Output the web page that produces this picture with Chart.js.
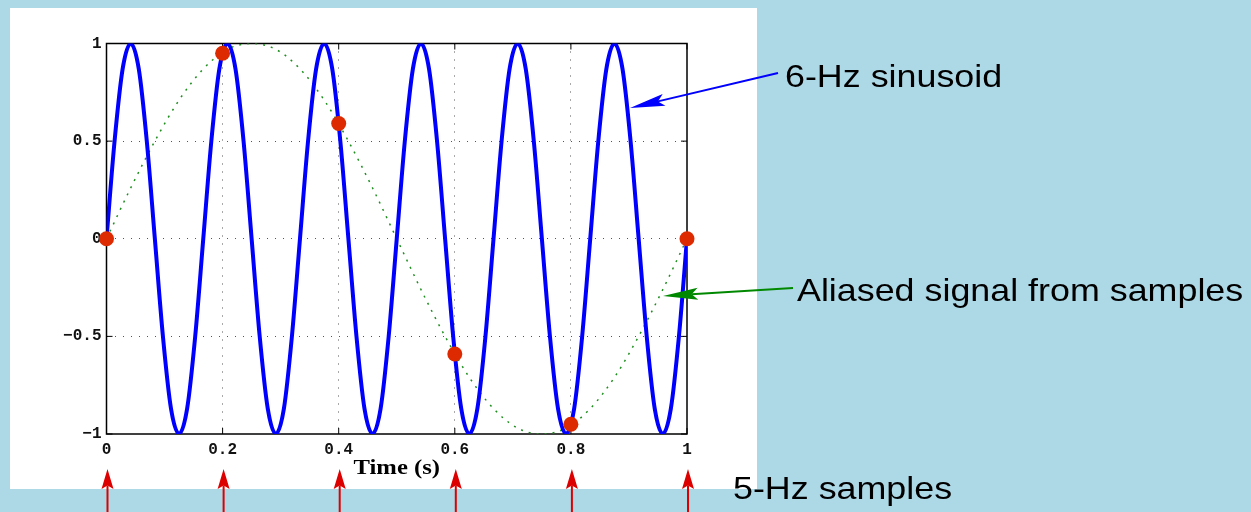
<!DOCTYPE html>
<html>
<head>
<meta charset="utf-8">
<script src="https://cdn.jsdelivr.net/npm/chart.js@4.4.1/dist/chart.umd.min.js"></script>
<style>
html, body { margin: 0; padding: 0; background: #add8e6; }
#wrap { width: 1251px; height: 512px; }
</style>
</head>
<body>
<div id="wrap"><canvas id="grafico"></canvas></div>
<script>
// 6-Hz sinusoid, read every 1/72 s
var tempiSeno = [0, 0.0139, 0.0278, 0.0417, 0.0556, 0.0694, 0.0833, 0.0972, 0.1111, 0.125, 0.1389, 0.1528,
  0.1667, 0.1806, 0.1944, 0.2083, 0.2222, 0.2361, 0.25, 0.2639, 0.2778, 0.2917, 0.3056, 0.3194,
  0.3333, 0.3472, 0.3611, 0.375, 0.3889, 0.4028, 0.4167, 0.4306, 0.4444, 0.4583, 0.4722, 0.4861,
  0.5, 0.5139, 0.5278, 0.5417, 0.5556, 0.5694, 0.5833, 0.5972, 0.6111, 0.625, 0.6389, 0.6528,
  0.6667, 0.6806, 0.6944, 0.7083, 0.7222, 0.7361, 0.75, 0.7639, 0.7778, 0.7917, 0.8056, 0.8194,
  0.8333, 0.8472, 0.8611, 0.875, 0.8889, 0.9028, 0.9167, 0.9306, 0.9444, 0.9583, 0.9722, 0.9861, 1];
var valoriSeno = [0, 0.5, 0.87, 1, 0.87, 0.5, 0, -0.5, -0.87, -1, -0.87, -0.5,
  0, 0.5, 0.87, 1, 0.87, 0.5, 0, -0.5, -0.87, -1, -0.87, -0.5,
  0, 0.5, 0.87, 1, 0.87, 0.5, 0, -0.5, -0.87, -1, -0.87, -0.5,
  0, 0.5, 0.87, 1, 0.87, 0.5, 0, -0.5, -0.87, -1, -0.87, -0.5,
  0, 0.5, 0.87, 1, 0.87, 0.5, 0, -0.5, -0.87, -1, -0.87, -0.5,
  0, 0.5, 0.87, 1, 0.87, 0.5, 0, -0.5, -0.87, -1, -0.87, -0.5, 0];

// aliased signal (dotted green)
var tempiAlias = [0, 0.0417, 0.0833, 0.125, 0.1667, 0.2083, 0.25, 0.2917, 0.3333, 0.375, 0.4167, 0.4583,
  0.5, 0.5417, 0.5833, 0.625, 0.6667, 0.7083, 0.75, 0.7917, 0.8333, 0.875, 0.9167, 0.9583, 1];
var valoriAlias = [0, 0.26, 0.5, 0.71, 0.87, 0.97, 1, 0.97, 0.87, 0.71, 0.5, 0.26,
  0, -0.26, -0.5, -0.71, -0.87, -0.97, -1, -0.97, -0.87, -0.71, -0.5, -0.26, 0];

// 5-Hz samples (red dots)
var tempiCampioni = [0, 0.2, 0.4, 0.6, 0.8, 1];
var valoriCampioni = [0, 0.95, 0.59, -0.59, -0.95, 0];

var etichetteX = ['0', '0.2', '0.4', '0.6', '0.8', '1'];
var etichetteY = ['\u22121', '\u22120.5', '0', '0.5', '1'];

function coppie(xs, ys) {
  var out = [];
  for (var i = 0; i < xs.length; i++) {
    out.push({x: xs[i], y: ys[i]});
  }
  return out;
}

// arrow with a slightly notched head, tip at (x1, y1)
function freccia(ctx, x0, y0, x1, y1, colore, lung, larg, spessore) {
  var dx = x1 - x0, dy = y1 - y0;
  var d = Math.sqrt(dx * dx + dy * dy);
  var ux = dx / d, uy = dy / d;
  var nx = -uy, ny = ux;
  var bx = x1 - ux * lung, by = y1 - uy * lung;
  var kx = x1 - ux * lung * 0.82, ky = y1 - uy * lung * 0.82;
  ctx.save();
  ctx.strokeStyle = colore;
  ctx.fillStyle = colore;
  ctx.lineWidth = spessore;
  ctx.beginPath();
  ctx.moveTo(x0, y0);
  ctx.lineTo(kx, ky);
  ctx.stroke();
  ctx.beginPath();
  ctx.moveTo(x1, y1);
  ctx.lineTo(bx + nx * larg, by + ny * larg);
  ctx.lineTo(kx, ky);
  ctx.lineTo(bx - nx * larg, by - ny * larg);
  ctx.closePath();
  ctx.fill();
  ctx.restore();
}

function testo(ctx, str, x, y, font, scala) {
  ctx.save();
  ctx.font = font;
  ctx.fillStyle = '#000';
  ctx.textBaseline = 'alphabetic';
  ctx.translate(x, y);
  ctx.scale(scala, 1);
  ctx.fillText(str, 0, 0);
  ctx.restore();
}

var sfondo = {
  id: 'sfondo',
  beforeDraw: function(chart) {
    var ctx = chart.ctx;
    ctx.save();
    ctx.fillStyle = '#add8e6';
    ctx.fillRect(0, 0, chart.width, chart.height);
    ctx.fillStyle = '#ffffff';
    ctx.fillRect(10, 8, 747, 481);
    ctx.restore();
  },
  beforeDatasetsDraw: function(chart) {
    var ctx = chart.ctx;
    var a = chart.chartArea;
    var sx = chart.scales.x, sy = chart.scales.y;
    ctx.save();
    ctx.strokeStyle = '#000';
    ctx.lineWidth = 1.5;
    ctx.strokeRect(a.left, a.top, a.right - a.left, a.bottom - a.top);
    ctx.lineWidth = 1;
    ctx.beginPath();
    for (var i = 0; i < sx.ticks.length; i++) {
      var px = sx.getPixelForValue(sx.ticks[i].value);
      ctx.moveTo(px, a.bottom); ctx.lineTo(px, a.bottom - 6);
      ctx.moveTo(px, a.top); ctx.lineTo(px, a.top + 6);
    }
    for (var j = 0; j < sy.ticks.length; j++) {
      var py = sy.getPixelForValue(sy.ticks[j].value);
      ctx.moveTo(a.left, py); ctx.lineTo(a.left + 6, py);
      ctx.moveTo(a.right, py); ctx.lineTo(a.right - 6, py);
    }
    ctx.stroke();
    ctx.restore();
  },
  afterDraw: function(chart) {
    var ctx = chart.ctx;
    var a = chart.chartArea;
    var sx = chart.scales.x;

    // axis title
    ctx.save();
    ctx.font = 'bold 22px "Liberation Serif", "Times New Roman", serif';
    ctx.fillStyle = '#000';
    ctx.textAlign = 'center';
    ctx.translate((a.left + a.right) / 2, 474);
    ctx.scale(1.12, 1);
    ctx.fillText('Time (s)', 0, 0);
    ctx.restore();

    // sample arrows under the axis
    for (var i = 0; i < tempiCampioni.length; i++) {
      var px = sx.getPixelForValue(tempiCampioni[i]) + 1;
      freccia(ctx, px, 512, px, 469, '#dd0000', 20, 6, 2);
    }

    freccia(ctx, 778, 73, 630, 108, '#0000ff', 35, 6, 2);
    freccia(ctx, 793, 288, 663, 296, '#008800', 35, 6, 2);

    var f = '32px "Liberation Sans", Arial, sans-serif';
    testo(ctx, '6-Hz sinusoid', 785, 87, f, 1.12);
    testo(ctx, 'Aliased signal from samples', 797, 301, f, 1.12);
    testo(ctx, '5-Hz samples', 733, 499, f, 1.12);
  }
};

function griglia(ctx) {
  var n = ctx.chart.scales[ctx.scale.id].ticks.length;
  if (ctx.index === 0 || ctx.index === n - 1) {
    return 'rgba(0,0,0,0)';
  }
  return '#555';
}

var fontTick = { family: '"Liberation Mono", "Courier New", monospace', size: 16, weight: 'bold' };

var chart = new Chart(document.getElementById('grafico'), {
  type: 'scatter',
  data: {
    datasets: [{
      label: 'samples',
      data: coppie(tempiCampioni, valoriCampioni),
      pointRadius: 7.5,
      pointBackgroundColor: '#dd2a00',
      pointBorderWidth: 0,
      showLine: false,
      clip: false,
      order: 0
    }, {
      label: '6-Hz sinusoid',
      data: coppie(tempiSeno, valoriSeno),
      showLine: true,
      borderColor: '#0000ff',
      borderWidth: 4,
      pointRadius: 0,
      cubicInterpolationMode: 'monotone',
      order: 1
    }, {
      label: 'aliased',
      data: coppie(tempiAlias, valoriAlias),
      showLine: true,
      borderColor: '#1f8f1f',
      borderWidth: 1.5,
      borderDash: [2, 6],
      pointRadius: 0,
      cubicInterpolationMode: 'monotone',
      order: 2
    }]
  },
  options: {
    responsive: true,
    maintainAspectRatio: false,
    animation: false,
    layout: {
      padding: { left: 56.5, right: 564, top: 43.5, bottom: 48 }
    },
    plugins: {
      legend: { display: false },
      tooltip: { enabled: false }
    },
    scales: {
      x: {
        type: 'linear',
        min: 0,
        max: 1,
        ticks: {
          stepSize: 0.2,
          padding: 6,
          color: '#111',
          font: fontTick,
          maxRotation: 0,
          autoSkip: false,
          callback: function(v, i) { return etichetteX[i]; }
        },
        grid: { color: griglia, lineWidth: 1, drawTicks: false },
        border: { display: false, dash: [1, 7] },
        afterFit: function(s) { s.height = 30; }
      },
      y: {
        min: -1,
        max: 1,
        ticks: {
          stepSize: 0.5,
          padding: 5,
          color: '#111',
          font: fontTick,
          autoSkip: false,
          callback: function(v, i) { return etichetteY[i]; }
        },
        grid: { color: griglia, lineWidth: 1, drawTicks: false },
        border: { display: false, dash: [1, 7] },
        afterFit: function(s) { s.width = 50; }
      }
    }
  },
  plugins: [sfondo]
});
</script>
</body>
</html>
